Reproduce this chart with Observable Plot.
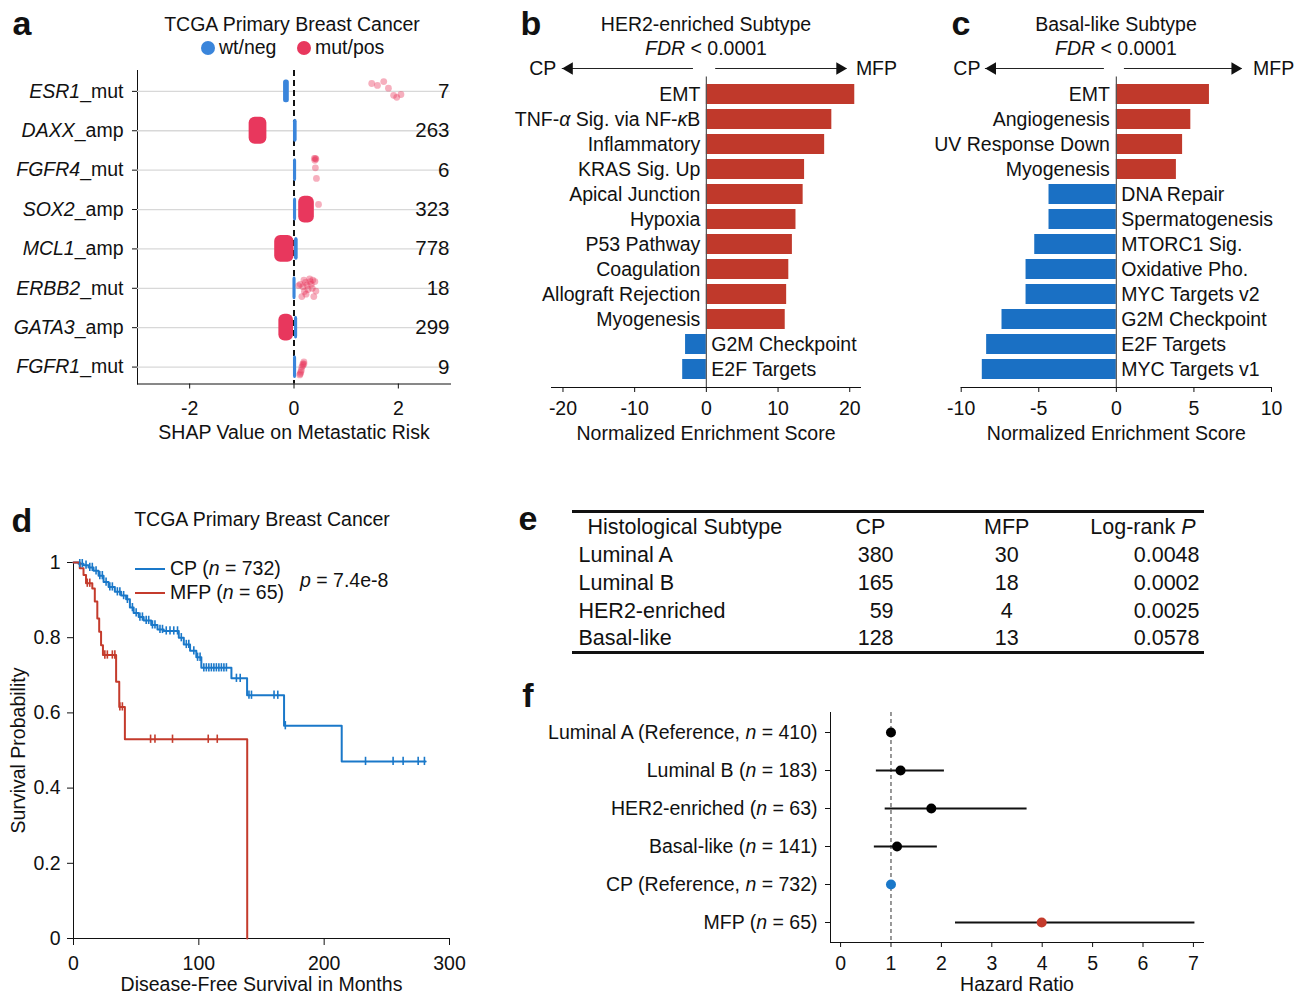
<!DOCTYPE html>
<html><head><meta charset="utf-8">
<script src="https://cdn.jsdelivr.net/npm/d3@7"></script>
<script src="https://cdn.jsdelivr.net/npm/@observablehq/plot@0.6"></script>
<style>
body{margin:0;background:#fff;}
#root{position:relative;width:1303px;height:996px;overflow:hidden;font-family:"Liberation Sans",Arial,Helvetica,sans-serif;color:#111;background:#fff;}
.abs{position:absolute;white-space:nowrap;line-height:1;}
#root svg{position:absolute;}
</style></head><body><div id="root"></div>
<script>
// ---------------- DATA ----------------
// Panel a
const genesA = ["ESR1","DAXX","FGFR4","SOX2","MCL1","ERBB2","GATA3","FGFR1"];
const suffixA = ["mut","amp","mut","amp","amp","mut","amp","mut"];
const countsA = [7,263,6,323,778,18,299,9];
const wtLo = [-0.20,-0.01,-0.01,-0.01,0.01,-0.02,0.01,-0.01];
const wtHi = [-0.09,0.06,0.05,0.05,0.08,0.04,0.07,0.05];
const denseGene = ["DAXX","SOX2","MCL1","GATA3"];
const denseLo = [-0.86,0.09,-0.37,-0.29];
const denseHi = [-0.52,0.39,0.00,-0.01];
const sparseGene = ["ESR1","ESR1","ESR1","ESR1","ESR1","ESR1","ESR1",
  "FGFR4","FGFR4","FGFR4","FGFR4","FGFR4","FGFR4",
  "SOX2",
  "ERBB2","ERBB2","ERBB2","ERBB2","ERBB2","ERBB2","ERBB2","ERBB2","ERBB2","ERBB2","ERBB2","ERBB2","ERBB2","ERBB2","ERBB2","ERBB2","ERBB2","ERBB2",
  "FGFR1","FGFR1","FGFR1","FGFR1","FGFR1","FGFR1","FGFR1","FGFR1","FGFR1"];
const sparseShap = [1.49,1.60,1.72,1.81,1.91,1.97,2.05,
  0.39,0.42,0.40,0.41,0.43,0.41,
  0.47,
  0.12,0.19,0.22,0.30,0.36,0.40,0.17,0.25,0.33,0.42,0.20,0.27,0.15,0.38,0.23,0.35,0.09,0.31,
  0.12,0.14,0.15,0.17,0.19,0.17,0.13,0.11,0.19];
const sparseJitter = [-0.20,-0.15,-0.25,-0.08,0.10,0.15,0.08,
  -0.30,-0.28,-0.25,-0.06,0.21,-0.30,
  -0.13,
  -0.10,-0.21,-0.15,-0.24,-0.21,-0.17,-0.04,-0.08,-0.10,0.07,0.08,0.03,0.21,0.21,0.15,0.00,-0.07,-0.17,
  0.17,0.08,0.00,-0.08,-0.13,-0.04,0.13,0.20,-0.08];

// Panel b
const pathB = ["EMT","TNF-*α* Sig. via NF-*κ*B","Inflammatory","KRAS Sig. Up","Apical Junction","Hypoxia","P53 Pathway","Coagulation","Allograft Rejection","Myogenesis","G2M Checkpoint","E2F Targets"];
const nesB = [20.7,17.5,16.5,13.7,13.5,12.5,12.0,11.5,11.2,11.0,-2.9,-3.3];
// Panel c
const pathC = ["EMT","Angiogenesis","UV Response Down","Myogenesis","DNA Repair","Spermatogenesis","MTORC1 Sig.","Oxidative Pho.","MYC Targets v2","G2M Checkpoint","E2F Targets","MYC Targets v1"];
const nesC = [6.0,4.8,4.27,3.87,-4.34,-4.34,-5.26,-5.82,-5.82,-7.37,-8.36,-8.64];

// Panel d (Kaplan–Meier)
const cpTime = [0,4,8,12,16,20,24,28,33,38,42,45,48,52,56,62,67,72,84,88,93,98,102,126,138.5,168,214,281];
const cpSurv = [1,0.997,0.993,0.987,0.978,0.965,0.948,0.935,0.922,0.912,0.902,0.880,0.866,0.855,0.846,0.834,0.822,0.818,0.800,0.782,0.765,0.748,0.720,0.692,0.647,0.566,0.471,0.471];
const cpCensor = [5,7,10,13,15,18,21,23,26,29,31,35,37,40,43,47,50,53,55,58,60,63,65,69,71,74,77,80,83,86,90,92,96,99,101,104,106,108,110,112,114,116,118,120,122,130,133,140,142,160,163,169,233,255,263,275,280];
const mfpTime = [0,5,8,10,15,17,19,20.5,22,23.5,34,36.5,41,138.6];
const mfpSurv = [1,0.985,0.967,0.945,0.931,0.896,0.851,0.816,0.780,0.754,0.683,0.616,0.530,0];
const mfpCensor = [11,13,25,27,31,33,37,39,61.5,65,79,107.5,114.7];

// Panel e (table)
const subtypesE = ["Luminal A","Luminal B","HER2-enriched","Basal-like"];
const cpE = [380,165,59,128];
const mfpE = [30,18,4,13];
const pE = ["0.0048","0.0002","0.0025","0.0578"];
const headerE = ["Histological Subtype","CP","MFP","Log-rank *P*"];

// Panel f (forest)
const labelsF = ["Luminal A (Reference, *n* = 410)","Luminal B (*n* = 183)","HER2-enriched (*n* = 63)","Basal-like (*n* = 141)","CP (Reference, *n* = 732)","MFP (*n* = 65)"];
const hrF = [1,1.19,1.80,1.12,1,3.99];
const loF = [null,0.71,0.885,0.67,null,2.28];
const hiF = [null,2.06,3.70,1.92,null,7.03];
const groupF = ["subtype","subtype","subtype","subtype","CP","MFP"];

// ---------------- STYLE ----------------
const FONT = '"Liberation Sans", Arial, Helvetica, sans-serif';
const RED_A = "#e8375d", BLUE_A = "#3a85db";
const RED = "#c0392b", BLUE = "#1a70c4";
const KM_BLUE = "#1a78c9", KM_RED = "#c43b2c";
const style = (fs = "19.5px") => ({fontFamily: FONT, fontSize: fs, background: "transparent", overflow: "visible", color: "#111"});
const root = document.getElementById("root");

function italicize(svg) {
  svg.querySelectorAll("text, tspan").forEach(el => {
    if (el.children.length) return;
    const s = el.textContent;
    if (!s.includes("*")) return;
    el.textContent = "";
    s.split("*").forEach((p, i) => {
      if (!p) return;
      const t = document.createElementNS("http://www.w3.org/2000/svg", "tspan");
      if (i % 2) t.setAttribute("font-style", "italic");
      t.textContent = p;
      el.appendChild(t);
    });
  });
}
function place(svg, left, top) {
  italicize(svg);
  svg.style.left = left + "px";
  svg.style.top = top + "px";
  root.appendChild(svg);
}
function txt(html, x, y, {anchor = "middle", size = 19.5, weight = 400} = {}) {
  const d = document.createElement("div");
  d.className = "abs";
  d.innerHTML = html;
  d.style.left = x + "px"; d.style.top = y + "px";
  d.style.fontSize = size + "px"; d.style.fontWeight = weight;
  const tx = anchor === "middle" ? "-50%" : anchor === "end" ? "-100%" : "0";
  d.style.transform = `translate(${tx},-50%)`;
  root.appendChild(d);
  return d;
}
function swatch(x, y, w, h, color, radius = 0) {
  const d = document.createElement("div");
  d.style.cssText = `position:absolute;left:${x - w / 2}px;top:${y - h / 2}px;width:${w}px;height:${h}px;background:${color};border-radius:${radius}px;`;
  root.appendChild(d);
}
const axisTitle = (label, dy) => Plot.text([label], {frameAnchor: "bottom", textAnchor: "middle", lineAnchor: "middle", dy});

// ---------------- PANEL A ----------------
const rowsA = genesA.map((g, i) => ({g, i, label: `*${g}*_${suffixA[i]}`, n: countsA[i], lo: wtLo[i], hi: wtHi[i]}));
const idxA = g => genesA.indexOf(g);
const denseA = denseGene.map((g, k) => ({row: idxA(g), lo: denseLo[k], hi: denseHi[k]}));
const sparseA = sparseGene.map((g, k) => ({row: idxA(g), x: sparseShap[k], j: sparseJitter[k]}));
const plotA = Plot.plot({
  width: 460, height: 450, marginLeft: 137, marginRight: 10, marginTop: 70, marginBottom: 66.5,
  style: style(),
  x: {domain: [-3, 3], ticks: [-2, 0, 2], tickFormat: d => String(d), tickSize: 5, tickPadding: 12, line: true, label: null},
  y: {domain: [7.43, -0.53], ticks: d3.range(8), tickFormat: i => rowsA[i] ? rowsA[i].label : "", tickSize: 5, tickPadding: 9, line: true, label: null},
  marks: [
    Plot.ruleY(rowsA, {y: "i", stroke: "#d8d8d8", strokeWidth: 1.3}),
    Plot.ruleX([0], {x: d => d, stroke: "#111", strokeWidth: 2, strokeDasharray: "6,4"}),
    Plot.rect(rowsA, {x1: "lo", x2: "hi", y1: d => d.i - 0.29, y2: d => d.i + 0.29, rx: 2.5, fill: BLUE_A}),
    Plot.rect(denseA, {x1: "lo", x2: "hi", y1: d => d.row - 0.34, y2: d => d.row + 0.34, rx: 6, fill: RED_A}),
    Plot.dot(sparseA, {x: "x", y: d => d.row + d.j, r: 3.4, fill: RED_A, fillOpacity: 0.4, stroke: "none"}),
    Plot.text(rowsA, {x: d => 3, y: "i", text: d => String(d.n), textAnchor: "end", dx: -1, fontSize: 20.5}),
    axisTitle("SHAP Value on Metastatic Risk", 49)
  ]
});
place(plotA, 0, 0);

// ---------------- PANELS B & C ----------------
function nesPlot(paths, vals, domain, ticks, W, mL, mR, lblDxPos, lblDxNeg) {
  const data = paths.map((p, i) => ({p, v: vals[i]}));
  return Plot.plot({
    width: W, height: 460, marginLeft: mL, marginRight: mR, marginTop: 76.4, marginBottom: 73,
    style: style(),
    x: {domain, ticks, tickFormat: d => String(d), tickSize: 5, tickPadding: 9, line: true, label: null},
    y: {domain: paths, padding: 0.2, axis: null},
    marks: [
      Plot.barX(data.filter(d => d.v > 0), {x: "v", y: "p", fill: RED}),
      Plot.barX(data.filter(d => d.v < 0), {x: "v", y: "p", fill: BLUE}),
      Plot.ruleX([0], {x: d => d, stroke: "#555", strokeWidth: 1.2}),
      Plot.text(data.filter(d => d.v > 0), {x: d => 0, y: "p", text: "p", textAnchor: "end", dx: lblDxPos}),
      Plot.text(data.filter(d => d.v < 0), {x: d => 0, y: "p", text: "p", textAnchor: "start", dx: lblDxNeg}),
      axisTitle("Normalized Enrichment Score", 46)
    ]
  });
}
function arrowPlot(domain, W, mL, mR, a) {
  return Plot.plot({
    width: W, height: 20, marginLeft: mL, marginRight: mR, marginTop: 0, marginBottom: 0,
    style: style(),
    x: {domain, axis: null}, y: {domain: [0, 1], axis: null},
    marks: [
      Plot.ruleY([0.5], {y: d => d, x1: d => a.endL, x2: d => a.tipL, stroke: "#222", strokeWidth: 1.1}),
      Plot.ruleY([0.5], {y: d => d, x1: d => a.startR, x2: d => a.tipR, stroke: "#222", strokeWidth: 1.1}),
      Plot.dot([a.tipL], {x: d => d, y: d => 0.5, symbol: "triangle", rotate: -90, r: 4.6, fill: "#111", stroke: "none", dx: 7}),
      Plot.dot([a.tipR], {x: d => d, y: d => 0.5, symbol: "triangle", rotate: 90, r: 4.6, fill: "#111", stroke: "none", dx: -7}),
      Plot.text(["CP"], {x: d => a.tipL, y: d => 0.5, textAnchor: "end", dx: a.cpDx}),
      Plot.text(["MFP"], {x: d => a.tipR, y: d => 0.5, textAnchor: "start", dx: a.mfpDx})
    ]
  });
}
const domB = [-21.6, 21.5];
place(nesPlot(pathB, nesB, domB, [-20, -10, 0, 10, 20], 400, 51, 40, -6, 5), 500, 0);
place(arrowPlot(domB, 400, 51, 40, {tipL: -20.1, endL: -1.8, startR: 1.3, tipR: 19.6, cpDx: -6, mfpDx: 9}), 500, 58);
const domC = [-10, 10];
place(nesPlot(pathC, nesC, domC, [-10, -5, 0, 5, 10], 393, 50.7, 32, -6.5, 5), 910, 0);
place(arrowPlot(domC, 393, 50.7, 32, {tipL: -8.44, endL: -0.77, startR: 0.52, tipR: 8.1, cpDx: -5, mfpDx: 11}), 910, 58);

// ---------------- PANEL D ----------------
const cpKM = cpTime.map((t, i) => ({t, s: cpSurv[i]}));
const mfpKM = mfpTime.map((t, i) => ({t, s: mfpSurv[i]}));
function survAt(times, survs, t) { let s = survs[0]; for (let i = 0; i < times.length; i++) if (times[i] <= t) s = survs[i]; return s; }
const cpCens = cpCensor.map(t => ({t, s: survAt(cpTime, cpSurv, t)}));
const mfpCens = mfpCensor.map(t => ({t, s: survAt(mfpTime, mfpSurv, t)}));
const plotD = Plot.plot({
  width: 470, height: 496, marginLeft: 73, marginRight: 21, marginTop: 62, marginBottom: 58,
  style: style(),
  x: {domain: [0, 300], ticks: [0, 100, 200, 300], tickFormat: d => String(d), tickSize: 7, tickPadding: 11, line: true, label: null},
  y: {domain: [0, 1], ticks: [0, 0.2, 0.4, 0.6, 0.8, 1], tickFormat: d => String(d), tickSize: 6, tickPadding: 7, line: true, label: null},
  marks: [
    Plot.line(cpKM, {x: "t", y: "s", curve: "step-after", stroke: KM_BLUE, strokeWidth: 2}),
    Plot.line(mfpKM, {x: "t", y: "s", curve: "step-after", stroke: KM_RED, strokeWidth: 2}),
    Plot.ruleX(cpCens, {x: "t", y1: d => d.s - 0.011, y2: d => d.s + 0.011, stroke: KM_BLUE, strokeWidth: 1.6}),
    Plot.ruleX(mfpCens, {x: "t", y1: d => d.s - 0.011, y2: d => d.s + 0.011, stroke: KM_RED, strokeWidth: 1.6}),
    axisTitle("Disease-Free Survival in Months", 46.5),
    Plot.text(["Survival Probability"], {frameAnchor: "left", textAnchor: "middle", lineAnchor: "middle", rotate: -90, dx: -55})
  ]
});
place(plotD, 0, 500);

// ---------------- PANEL E (table) ----------------
const rowsE = subtypesE.map((s, i) => ({row: i + 1, s, cp: String(cpE[i]), mfp: String(mfpE[i]), p: pE[i]}));
const headE = [{row: 0}];
const colE = {subHead: 0.0237, sub: 0.0095, cpHead: 0.4715, cp: 0.508, mfp: 0.687, pHead: 0.9858, p: 0.9921};
const plotE = Plot.plot({
  width: 660, height: 165, marginLeft: 12, marginRight: 16, marginTop: 11, marginBottom: 13,
  style: style("21.5px"),
  x: {domain: [0, 1], axis: null}, y: {domain: [4.5, -0.57], axis: null},
  marks: [
    Plot.ruleY([-0.57, 4.5], {y: d => d, stroke: "#111", strokeWidth: 3.2}),
    Plot.text(headE, {x: d => colE.subHead, y: "row", text: d => headerE[0], textAnchor: "start"}),
    Plot.text(headE, {x: d => colE.cpHead, y: "row", text: d => headerE[1], textAnchor: "middle"}),
    Plot.text(headE, {x: d => colE.mfp, y: "row", text: d => headerE[2], textAnchor: "middle"}),
    Plot.text(headE, {x: d => colE.pHead, y: "row", text: d => headerE[3], textAnchor: "end"}),
    Plot.text(rowsE, {x: d => colE.sub, y: "row", text: "s", textAnchor: "start"}),
    Plot.text(rowsE, {x: d => colE.cp, y: "row", text: "cp", textAnchor: "end"}),
    Plot.text(rowsE, {x: d => colE.mfp, y: "row", text: "mfp", textAnchor: "middle"}),
    Plot.text(rowsE, {x: d => colE.p, y: "row", text: "p", textAnchor: "end"})
  ]
});
place(plotE, 560, 500);

// ---------------- PANEL F (forest) ----------------
const dataF = labelsF.map((l, i) => ({l, hr: hrF[i], lo: loF[i], hi: hiF[i], g: groupF[i]}));
const plotF = Plot.plot({
  width: 700, height: 306, marginLeft: 310, marginRight: 17, marginTop: 22, marginBottom: 54,
  style: style(),
  x: {domain: [-0.2, 7.2], ticks: d3.range(8), tickFormat: d => String(d), tickSize: 5, tickPadding: 9, line: true, label: null},
  y: {type: "point", domain: labelsF, padding: 0.5, tickSize: 5, tickPadding: 8, line: true, label: null},
  marks: [
    Plot.ruleX([1], {x: d => d, stroke: "#555", strokeWidth: 1.2, strokeDasharray: "4,3"}),
    Plot.ruleY(dataF.filter(d => d.lo != null), {y: "l", x1: "lo", x2: "hi", stroke: "#111", strokeWidth: 2}),
    Plot.dot(dataF.filter(d => d.g === "subtype"), {x: "hr", y: "l", r: 5, fill: "#000", stroke: "none"}),
    Plot.dot(dataF.filter(d => d.g === "CP"), {x: "hr", y: "l", r: 5, fill: KM_BLUE, stroke: "none"}),
    Plot.dot(dataF.filter(d => d.g === "MFP"), {x: "hr", y: "l", r: 5, fill: KM_RED, stroke: "none"}),
    axisTitle("Hazard Ratio", 42.5)
  ]
});
place(plotF, 520, 690);

// ---------------- TITLES, LEGENDS, LETTERS ----------------
txt("a", 22, 23.2, {size: 34, weight: 700});
txt("b", 531, 23.2, {size: 34, weight: 700});
txt("c", 961, 23.2, {size: 34, weight: 700});
txt("d", 22, 520.2, {size: 34, weight: 700});
txt("e", 528, 518, {size: 34, weight: 700});
txt("f", 528, 695, {size: 34, weight: 700});

txt("TCGA Primary Breast Cancer", 292, 25);
swatch(208, 48, 14, 14, BLUE_A, 7);
txt("wt/neg", 219, 48, {anchor: "start"});
swatch(304, 48, 14, 14, RED_A, 7);
txt("mut/pos", 315, 48, {anchor: "start"});

txt("HER2-enriched Subtype", 706, 25);
txt("<i>FDR</i> &lt; 0.0001", 706, 49);
txt("Basal-like Subtype", 1116, 25);
txt("<i>FDR</i> &lt; 0.0001", 1116, 49);

txt("TCGA Primary Breast Cancer", 262, 520);
swatch(150, 569, 30, 2.5, KM_BLUE);
txt("CP (<i>n</i> = 732)", 170, 569, {anchor: "start"});
swatch(150, 593, 30, 2.5, KM_RED);
txt("MFP (<i>n</i> = 65)", 170, 593, {anchor: "start"});
txt("<i>p</i> = 7.4e-8", 300, 581, {anchor: "start"});
</script></body></html>
